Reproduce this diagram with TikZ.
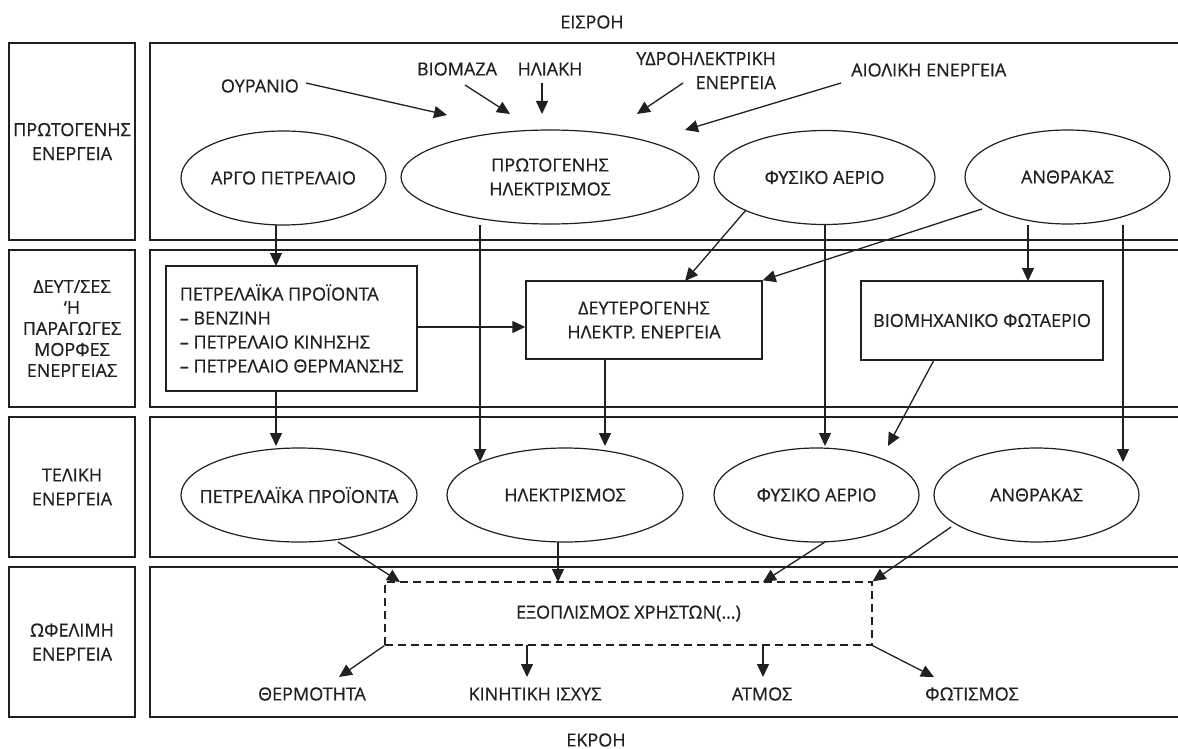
\documentclass[tikz,border=0pt]{standalone}
\usepackage{fontspec}
\setmainfont{Open Sans}[FakeBold=0.6]
\usetikzlibrary{shapes.geometric,arrows.meta}
\definecolor{ink}{RGB}{35,31,32}
\begin{document}
\begin{tikzpicture}[x=1pt,y=-1pt,
  every node/.style={font=\fontsize{18}{24}\selectfont, text=ink, inner sep=0pt},
  frame/.style={draw=ink, line width=1.8pt, rectangle, minimum width=1050pt},
  lbl/.style={draw=ink, line width=1.8pt, rectangle, minimum width=126pt, align=center},
  ell/.style={draw=ink, ellipse, line width=1.2pt, align=center, minimum height=94pt},
  box/.style={draw=ink, rectangle, line width=1.4pt, align=center},
  dbox/.style={draw=ink, rectangle, line width=1.3pt, dash pattern=on 8pt off 5pt},
  arr/.style={draw=ink, line width=1.3pt, -{Triangle[length=13pt,width=12pt]}}
]
\useasboundingbox (0,0) rectangle (1178,749);
\clip (0,0) rectangle (1178,749);

% titles
\node (in) at (592,22) {ΕΙΣΡΟΗ};
\node (out) at (596,740) {ΕΚΡΟΗ};

% row frames
\node[frame, minimum height=197pt] (f1) at (675,141.5) {};
\node[frame, minimum height=157pt] (f2) at (675,328.5) {};
\node[frame, minimum height=140pt] (f3) at (675,487) {};
\node[frame, minimum height=150pt] (f4) at (675,642) {};

% row labels
\node[lbl, minimum height=197pt] (l1) at (72,141.5) {ΠΡΩΤΟΓΕΝΗΣ\\ΕΝΕΡΓΕΙΑ};
\node[lbl, minimum height=157pt, font=\fontsize{18}{21}\selectfont] (l2) at (72,328.5) {ΔΕΥΤ/ΣΕΣ\\‘Η\\ΠΑΡΑΓΩΓΕΣ\\ΜΟΡΦΕΣ\\ΕΝΕΡΓΕΙΑΣ};
\node[lbl, minimum height=140pt] (l3) at (72,487) {ΤΕΛΙΚΗ\\ΕΝΕΡΓΕΙΑ};
\node[lbl, minimum height=150pt] (l4) at (72,642) {ΩΦΕΛΙΜΗ\\ΕΝΕΡΓΕΙΑ};

% primary sources
\node[anchor=east] (our) at (299,86) {ΟΥΡΑΝΙΟ};
\node (biom) at (457,69) {ΒΙΟΜΑΖΑ};
\node (sol) at (550,69) {ΗΛΙΑΚΗ};
\node[anchor=east, align=right] (hyd) at (776,70.5) {ΥΔΡΟΗΛΕΚΤΡΙΚΗ\\ΕΝΕΡΓΕΙΑ};
\node[anchor=west] (wind) at (851,70) {ΑΙΟΛΙΚΗ ΕΝΕΡΓΕΙΑ};
\coordinate (tA) at (447,115);
\coordinate (tB) at (510,114);
\coordinate (tC) at (542,114);
\coordinate (tD) at (637,114);
\coordinate (tE) at (685,130);

% row 1
\node[ell, minimum width=205pt] (argo) at (283.5,178) {ΑΡΓΟ ΠΕΤΡΕΛΑΙΟ};
\node[ell, minimum width=298pt] (prim) at (550,177) {ΠΡΩΤΟΓΕΝΗΣ\\ΗΛΕΚΤΡΙΣΜΟΣ};
\node[ell, minimum width=221pt] (gas1) at (824.5,177.5) {ΦΥΣΙΚΟ ΑΕΡΙΟ};
\node[ell, minimum width=205pt] (coal1) at (1067.5,177) {ΑΝΘΡΑΚΑΣ};

% row 2
\node[draw=ink, rectangle, line width=1.4pt, minimum width=251pt, minimum height=125pt,
      align=left] (pet) at (291.5,328.5)
  {\fontsize{18}{23.3}\selectfont ΠΕΤΡΕΛΑΪΚΑ ΠΡΟΪΟΝΤΑ\\– ΒΕΝΖΙΝΗ\\– ΠΕΤΡΕΛΑΙΟ ΚΙΝΗΣΗΣ\\– ΠΕΤΡΕΛΑΙΟ ΘΕΡΜΑΝΣΗΣ};
\node[box, minimum width=236pt, minimum height=78pt] (deut) at (644,320) {ΔΕΥΤΕΡΟΓΕΝΗΣ\\ΗΛΕΚΤΡ. ΕΝΕΡΓΕΙΑ};
\node[box, minimum width=242pt, minimum height=79pt] (bio) at (982,320.5) {ΒΙΟΜΗΧΑΝΙΚΟ ΦΩΤΑΕΡΙΟ};

% row 3
\node[ell, minimum width=236pt] (pet3) at (299,495) {\makebox[0pt]{ΠΕΤΡΕΛΑΪΚΑ ΠΡΟΪΟΝΤΑ}};
\node[ell, minimum width=236pt] (el3) at (565,495) {ΗΛΕΚΤΡΙΣΜΟΣ};
\node[ell, minimum width=205pt] (gas3) at (816.5,495) {ΦΥΣΙΚΟ ΑΕΡΙΟ};
\node[ell, minimum width=205pt] (coal3) at (1036.5,495) {ΑΝΘΡΑΚΑΣ};

% row 4
\node[dbox, minimum width=487pt, minimum height=63pt] (eq) at (628.5,613.5) {ΕΞΟΠΛΙΣΜΟΣ ΧΡΗΣΤΩΝ(…)};
\node (therm) at (312,694) {ΘΕΡΜΟΤΗΤΑ};
\node (kin) at (535,694) {ΚΙΝΗΤΙΚΗ ΙΣΧΥΣ};
\node (atm) at (762,694) {ΑΤΜΟΣ};
\node (fot) at (972,694) {ΦΩΤΙΣΜΟΣ};

% inputs to primary electricity
\draw[arr] ([shift={(7,-3)}]our.east) -- (tA);
\draw[arr] ([shift={(8,16)}]biom.center) -- (tB);
\draw[arr] ([shift={(-8,14)}]sol.center) -- (tC);
\draw[arr] ([shift={(-93,12.5)}]hyd.east) -- (tD);
\draw[arr] ([shift={(-10,13)}]wind.west) -- (tE);

% row 1 -> row 2 / row 3
\draw[arr] ([shift={(-7.5,47)}]argo.center) -- ([shift={(-15.5,-62.5)}]pet.center);
\draw[arr] ([shift={(-70,48)}]prim.center) -- ([shift={(-85,-33)}]el3.center);
\draw[arr] ([shift={(-78.5,32.5)}]gas1.center) -- ([shift={(41,-39)}]deut.center);
\draw[arr] ([shift={(-85.5,32)}]coal1.center) -- (deut.north east);
\draw[arr] ([shift={(0.5,47.5)}]gas1.center) -- ([shift={(8.5,-49)}]gas3.center);
\draw[arr] ([shift={(-39.5,48)}]coal1.center) -- ([shift={(46,-39.5)}]bio.center);
\draw[arr] ([shift={(55.5,48)}]coal1.center) -- ([shift={(86.5,-33)}]coal3.center);

% row 2 internal and -> row 3
\draw[arr] ([shift={(0,-1.5)}]pet.east) -- ([shift={(0,7)}]deut.west);
\draw[arr] ([shift={(-15.5,62.5)}]pet.center) -- ([shift={(-23,-49)}]pet3.center);
\draw[arr] ([shift={(-39,39)}]deut.center) -- ([shift={(40,-49)}]el3.center);
\draw[arr] ([shift={(-48,39.5)}]bio.center) -- ([shift={(71.5,-49)}]gas3.center);

% row 3 -> equipment
\draw[arr] ([shift={(39,47)}]pet3.center) -- ([shift={(-228.5,-31.5)}]eq.center);
\draw[arr] ([shift={(-7,47)}]el3.center) -- ([shift={(-70.5,-31.5)}]eq.center);
\draw[arr] ([shift={(8.5,47)}]gas3.center) -- ([shift={(134.5,-31.5)}]eq.center);
\draw[arr] ([shift={(-85.5,32)}]coal3.center) -- (eq.north east);

% equipment -> useful energy
\draw[arr] (eq.south west) -- ([shift={(27,-17)}]therm.center);
\draw[arr] ([shift={(-101.5,31.5)}]eq.center) -- ([shift={(-8,-17)}]kin.center);
\draw[arr] ([shift={(134.5,31.5)}]eq.center) -- ([shift={(1,-17)}]atm.center);
\draw[arr] (eq.south east) -- ([shift={(-38,-17)}]fot.center);
\end{tikzpicture}
\end{document}
